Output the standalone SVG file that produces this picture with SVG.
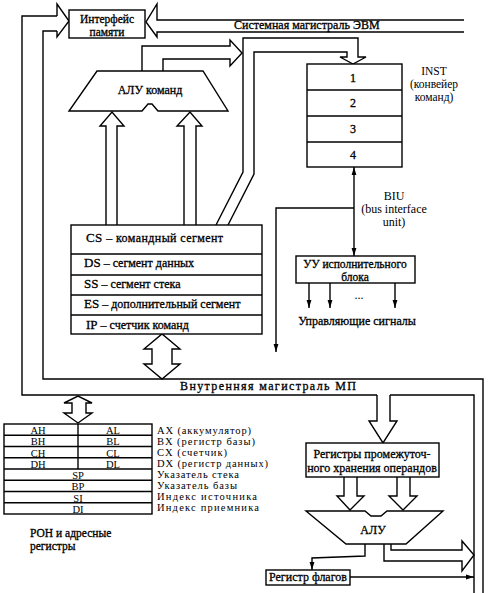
<svg xmlns="http://www.w3.org/2000/svg" width="489" height="593" viewBox="0 0 489 593">
<style>
.ln{fill:none;stroke:#000;stroke-width:1.4}
.box{fill:#fff;stroke:#000;stroke-width:1.4}
.arr{fill:#fff;stroke:#000;stroke-width:1.4;stroke-linejoin:miter}
text{font-family:"Liberation Serif","Times New Roman",serif;fill:#000;font-size:12px}
.b{stroke:#000;stroke-width:0.3}
.m{text-anchor:middle}
.r{font-size:10.5px}
.s{font-size:11.5px}
</style>
<defs>
<marker id="ah" viewBox="0 0 8 6" refX="8" refY="3" markerWidth="8" markerHeight="6" markerUnits="userSpaceOnUse" orient="auto-start-reverse">
<path d="M0,0.6 L8,3 L0,5.4 z" fill="#000"/>
</marker>
</defs>
<rect width="489" height="593" fill="#fff"/>

<g id="connectors">
<polyline class="ln" points="57,16 22,16 22,395 377,395"/>
<polyline class="ln" points="390,395 474,395 474,593"/>
<polyline class="ln" points="57,31 43,31 43,379 483,379 483,593"/>
<polyline class="ln" points="57,16 57,4 69,21 57,37 57,31"/>
<polyline class="ln" points="464,20 157,20 157,4 146,22 157,37 157,32 464,32"/>
<polyline class="ln" points="142,71 142,46 230,46 230,40 242,53 230,66 230,59 163,59 163,71"/>
<polyline class="ln" points="216,225 243,172 243,38 358,38 358,57 366,57 353,64 340,57 347,57 347,52 254,52 254,174 228,225"/>
<polyline class="arr" points="106,225 106,126 100,126 112,112 124,126 117,126 117,225"/>
<polyline class="arr" points="184,225 184,126 177,126 190,112 202,126 196,126 196,225"/>
<polygon class="arr" points="152,349 144,349 162,334 180,349 172,349 172,364 180,364 162,379 144,364 152,364"/>
<polygon class="arr" points="72,403 64,403 78,396 92,403 86,403 86,413 92,413 78,423 64,413 72,413"/>
<polyline class="arr" points="377,395 377,421 369,421 383,443 397,421 390,421 390,395"/>
<polyline class="arr" points="344,477 344,496 337,496 350,510 364,496 357,496 357,477"/>
<polyline class="arr" points="397,477 397,496 389,496 403,510 417,496 410,496 410,477"/>
<polyline class="arr" points="384,544 384,561 462,561 462,571 474,555 462,541 462,550 391,550 391,544"/>
<polyline class="ln" points="365,544 365,556 312,558 312,570" marker-end="url(#ah)"/>
<line class="ln" x1="350" y1="577" x2="474" y2="577" marker-end="url(#ah)"/>
<line class="ln" x1="354" y1="167" x2="354" y2="256" marker-start="url(#ah)" marker-end="url(#ah)"/>
<polyline class="ln" points="354,208 276,208 276,352" marker-end="url(#ah)"/>
<line class="ln" x1="309" y1="283" x2="309" y2="308" marker-end="url(#ah)"/>
<line class="ln" x1="330" y1="283" x2="330" y2="308" marker-end="url(#ah)"/>
<line class="ln" x1="395" y1="283" x2="395" y2="308" marker-end="url(#ah)"/>
</g>

<g id="interface">
<rect class="box" x="69" y="10" width="76" height="28"/>
<text class="m b s" x="107" y="22.5">Интерфейс</text>
<text class="m b s" x="107" y="35.5">памяти</text>
</g>

<g id="system-bus-label">
<text class="b" x="234" y="29">Системная магистраль ЭВМ</text>
</g>

<g id="alu-cmd">
<polygon class="box" points="97,71 203,71 228,111 158,111 152,104 148,104 142,111 69,111"/>
<text class="m b" x="150" y="94">АЛУ команд</text>
</g>

<g id="inst">
<rect class="box" x="307" y="64" width="95" height="103"/>
<line class="ln" x1="307" y1="90" x2="402" y2="90"/>
<line class="ln" x1="307" y1="116" x2="402" y2="116"/>
<line class="ln" x1="307" y1="142" x2="402" y2="142"/>
<text class="m b" x="353" y="82" font-size="11">1</text>
<text class="m b" x="353" y="107" font-size="11">2</text>
<text class="m b" x="353" y="133" font-size="11">3</text>
<text class="m b" x="353" y="159" font-size="11">4</text>
<text class="m s" x="434" y="75">INST</text>
<text class="m s" x="434" y="88">(конвейер</text>
<text class="m s" x="434" y="101">команд)</text>
</g>

<g id="biu-label">
<text class="m" x="394" y="200" font-size="10.5">BIU</text>
<text class="m" x="394" y="213" font-size="10.5">(bus interface</text>
<text class="m" x="394" y="226" font-size="10.5">unit)</text>
</g>

<g id="uu">
<rect class="box" x="296" y="256" width="119" height="27"/>
<text class="m b s" x="355" y="268">УУ исполнительного</text>
<text class="m b s" x="355" y="281">блока</text>
<text class="m" x="359" y="299">...</text>
<text class="m b" x="357" y="325">Управляющие сигналы</text>
</g>

<g id="seg-regs">
<rect class="box" x="71" y="225" width="191" height="109"/>
<line class="ln" x1="71" y1="254" x2="262" y2="254"/>
<line class="ln" x1="71" y1="275" x2="262" y2="275"/>
<line class="ln" x1="71" y1="295" x2="262" y2="295"/>
<line class="ln" x1="71" y1="315" x2="262" y2="315"/>
<text class="b" x="86" y="242" textLength="137"><tspan font-size="13">CS</tspan> – командный сегмент</text>
<text class="b" x="84" y="267"><tspan font-size="13">DS</tspan> – сегмент данных</text>
<text class="b" x="84" y="288"><tspan font-size="13">SS</tspan> – сегмент стека</text>
<text class="b" x="84" y="308"><tspan font-size="13">ES</tspan> – дополнительный сегмент</text>
<text class="b" x="86" y="329"><tspan font-size="13">IP</tspan> – счетчик команд</text>
</g>

<g id="internal-bus-label">
<text class="b" x="180" y="390" font-size="12.5" textLength="176">Внутренняя магистраль МП</text>
</g>

<g id="gp-regs">
<rect class="box" x="4" y="424" width="148" height="90"/>
<line class="ln" x1="4" y1="435.25" x2="152" y2="435.25"/>
<line class="ln" x1="4" y1="446.5" x2="152" y2="446.5"/>
<line class="ln" x1="4" y1="457.75" x2="152" y2="457.75"/>
<line class="ln" x1="4" y1="469" x2="152" y2="469"/>
<line class="ln" x1="4" y1="480.25" x2="152" y2="480.25"/>
<line class="ln" x1="4" y1="491.5" x2="152" y2="491.5"/>
<line class="ln" x1="4" y1="502.75" x2="152" y2="502.75"/>
<line class="ln" x1="78" y1="424" x2="78" y2="469"/>
<text class="m r" x="38" y="434">AH</text>
<text class="m r" x="113" y="434">AL</text>
<text class="m r" x="38" y="445.3">BH</text>
<text class="m r" x="113" y="445.3">BL</text>
<text class="m r" x="38" y="456.5">CH</text>
<text class="m r" x="113" y="456.5">CL</text>
<text class="m r" x="38" y="467.8">DH</text>
<text class="m r" x="113" y="467.8">DL</text>
<text class="m r" x="78" y="479">SP</text>
<text class="m r" x="78" y="490.3">BP</text>
<text class="m r" x="78" y="501.5">SI</text>
<text class="m r" x="78" y="512.8">DI</text>
<text class="r" x="157" y="434" textLength="94">AX (аккумулятор)</text>
<text class="r" x="157" y="445" textLength="98">BX (регистр базы)</text>
<text class="r" x="157" y="456" textLength="70">CX (счетчик)</text>
<text class="r" x="157" y="467" textLength="111">DX (регистр данных)</text>
<text class="r" x="157" y="478" textLength="82">Указатель стека</text>
<text class="r" x="157" y="489" textLength="80">Указатель базы</text>
<text class="r" x="157" y="500" textLength="100">Индекс источника</text>
<text class="r" x="157" y="511" textLength="102">Индекс приемника</text>
<text class="b s" x="30" y="537">РОН и адресные</text>
<text class="b s" x="30" y="550">регистры</text>
</g>

<g id="op-regs">
<rect class="box" x="306" y="443" width="133" height="34"/>
<text class="m b" x="372" y="458">Регистры промежуточ-</text>
<text class="m b" x="372" y="472">ного хранения операндов</text>
</g>

<g id="alu">
<polygon class="box" points="306,511 365,511 371,516 381,516 387,511 443,511 406,544 346,544"/>
<text class="m b" x="373" y="534">АЛУ</text>
</g>

<g id="flags">
<rect class="box" x="266" y="570" width="84" height="15"/>
<text class="m b" x="308" y="581">Регистр флагов</text>
</g>
</svg>
